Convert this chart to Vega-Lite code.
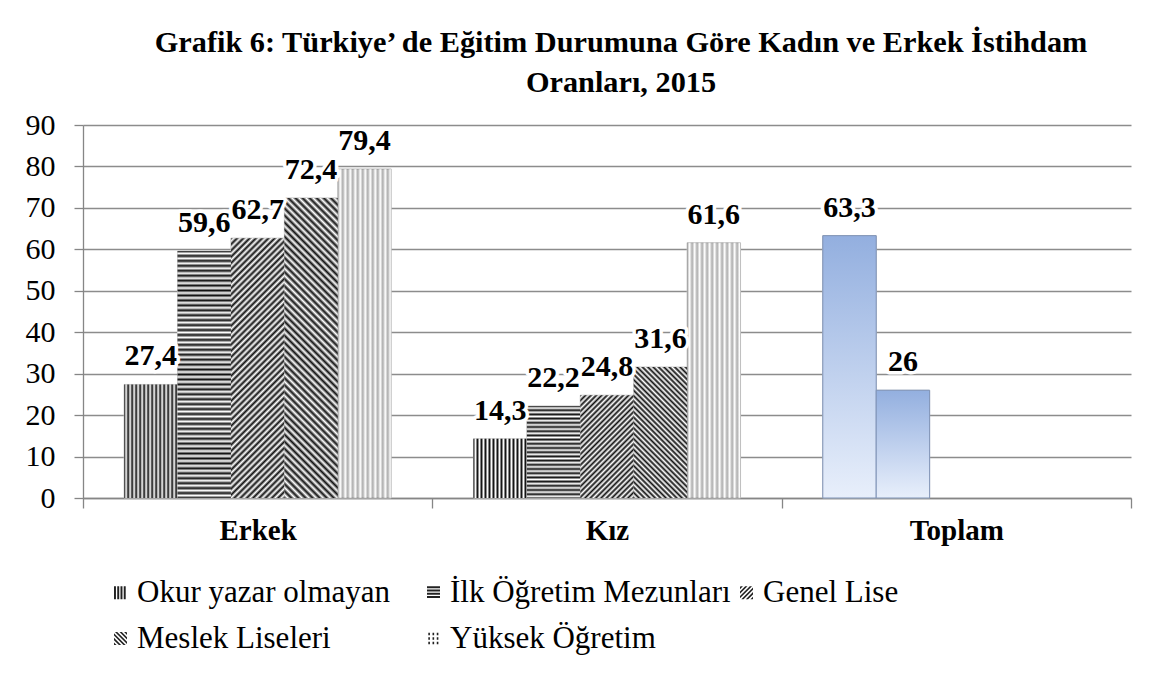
{
  "$schema": "https://vega.github.io/schema/vega-lite/v6.json",
  "width": 1048,
  "height": 373,
  "padding": {"left": 25, "top": 27, "right": 5, "bottom": 5},
  "background": "white",
  "params": [
    {"name": "SD", "value": [
      {"offset":0,"color":"#111"},{"offset":0.01,"color":"#fff"},{"offset":0.02,"color":"#111"},{"offset":0.03,"color":"#fff"},{"offset":0.04,"color":"#111"},{"offset":0.05,"color":"#fff"},{"offset":0.06,"color":"#111"},{"offset":0.07,"color":"#fff"},{"offset":0.08,"color":"#111"},{"offset":0.09,"color":"#fff"},
      {"offset":0.10,"color":"#111"},{"offset":0.11,"color":"#fff"},{"offset":0.12,"color":"#111"},{"offset":0.13,"color":"#fff"},{"offset":0.14,"color":"#111"},{"offset":0.15,"color":"#fff"},{"offset":0.16,"color":"#111"},{"offset":0.17,"color":"#fff"},{"offset":0.18,"color":"#111"},{"offset":0.19,"color":"#fff"},
      {"offset":0.20,"color":"#111"},{"offset":0.21,"color":"#fff"},{"offset":0.22,"color":"#111"},{"offset":0.23,"color":"#fff"},{"offset":0.24,"color":"#111"},{"offset":0.25,"color":"#fff"},{"offset":0.26,"color":"#111"},{"offset":0.27,"color":"#fff"},{"offset":0.28,"color":"#111"},{"offset":0.29,"color":"#fff"},
      {"offset":0.30,"color":"#111"},{"offset":0.31,"color":"#fff"},{"offset":0.32,"color":"#111"},{"offset":0.33,"color":"#fff"},{"offset":0.34,"color":"#111"},{"offset":0.35,"color":"#fff"},{"offset":0.36,"color":"#111"},{"offset":0.37,"color":"#fff"},{"offset":0.38,"color":"#111"},{"offset":0.39,"color":"#fff"},
      {"offset":0.40,"color":"#111"},{"offset":0.41,"color":"#fff"},{"offset":0.42,"color":"#111"},{"offset":0.43,"color":"#fff"},{"offset":0.44,"color":"#111"},{"offset":0.45,"color":"#fff"},{"offset":0.46,"color":"#111"},{"offset":0.47,"color":"#fff"},{"offset":0.48,"color":"#111"},{"offset":0.49,"color":"#fff"},
      {"offset":0.50,"color":"#111"},{"offset":0.51,"color":"#fff"},{"offset":0.52,"color":"#111"},{"offset":0.53,"color":"#fff"},{"offset":0.54,"color":"#111"},{"offset":0.55,"color":"#fff"},{"offset":0.56,"color":"#111"},{"offset":0.57,"color":"#fff"},{"offset":0.58,"color":"#111"},{"offset":0.59,"color":"#fff"},
      {"offset":0.60,"color":"#111"},{"offset":0.61,"color":"#fff"},{"offset":0.62,"color":"#111"},{"offset":0.63,"color":"#fff"},{"offset":0.64,"color":"#111"},{"offset":0.65,"color":"#fff"},{"offset":0.66,"color":"#111"},{"offset":0.67,"color":"#fff"},{"offset":0.68,"color":"#111"},{"offset":0.69,"color":"#fff"},
      {"offset":0.70,"color":"#111"},{"offset":0.71,"color":"#fff"},{"offset":0.72,"color":"#111"},{"offset":0.73,"color":"#fff"},{"offset":0.74,"color":"#111"},{"offset":0.75,"color":"#fff"},{"offset":0.76,"color":"#111"},{"offset":0.77,"color":"#fff"},{"offset":0.78,"color":"#111"},{"offset":0.79,"color":"#fff"},
      {"offset":0.80,"color":"#111"},{"offset":0.81,"color":"#fff"},{"offset":0.82,"color":"#111"},{"offset":0.83,"color":"#fff"},{"offset":0.84,"color":"#111"},{"offset":0.85,"color":"#fff"},{"offset":0.86,"color":"#111"},{"offset":0.87,"color":"#fff"},{"offset":0.88,"color":"#111"},{"offset":0.89,"color":"#fff"},
      {"offset":0.90,"color":"#111"},{"offset":0.91,"color":"#fff"},{"offset":0.92,"color":"#111"},{"offset":0.93,"color":"#fff"},{"offset":0.94,"color":"#111"},{"offset":0.95,"color":"#fff"},{"offset":0.96,"color":"#111"},{"offset":0.97,"color":"#fff"},{"offset":0.98,"color":"#111"},{"offset":0.99,"color":"#fff"},
      {"offset":1,"color":"#111"}
    ]}
  ],
  "title": {
    "text": ["Grafik 6: Türkiye’ de Eğitim Durumuna Göre Kadın ve Erkek İstihdam", "Oranları, 2015"],
    "font": "Liberation Serif",
    "fontSize": 30.3,
    "fontWeight": "bold",
    "lineHeight": 40,
    "color": "#000",
    "anchor": "middle",
    "dx": 14,
    "offset": 12
  },
  "data": {
    "values": [
      {"group": "Erkek", "series": "Okur yazar olmayan", "value": 27.4},
      {"group": "Erkek", "series": "İlk Öğretim Mezunları", "value": 59.6},
      {"group": "Erkek", "series": "Genel Lise", "value": 62.7},
      {"group": "Erkek", "series": "Meslek Liseleri", "value": 72.4},
      {"group": "Erkek", "series": "Yüksek Öğretim", "value": 79.4},
      {"group": "Kız", "series": "Okur yazar olmayan", "value": 14.3},
      {"group": "Kız", "series": "İlk Öğretim Mezunları", "value": 22.2},
      {"group": "Kız", "series": "Genel Lise", "value": 24.8},
      {"group": "Kız", "series": "Meslek Liseleri", "value": 31.6},
      {"group": "Kız", "series": "Yüksek Öğretim", "value": 61.6},
      {"group": "Toplam", "series": "Okur yazar olmayan", "value": 63.3},
      {"group": "Toplam", "series": "İlk Öğretim Mezunları", "value": 26}
    ]
  },
  "encoding": {
    "x": {
      "field": "group", "type": "nominal", "sort": ["Erkek", "Kız", "Toplam"],
      "scale": {"paddingInner": 0, "paddingOuter": 0},
      "axis": {
        "title": null, "labelAngle": 0, "tickBand": "extent",
        "domainColor": "#868686", "domainWidth": 1.3, "tickColor": "#868686", "tickWidth": 1.3, "tickSize": 10,
        "labelFont": "Liberation Serif", "labelFontSize": 29, "labelFontWeight": "bold", "labelColor": "#000", "labelPadding": 8
      }
    },
    "xOffset": {
      "field": "series", "type": "nominal",
      "sort": ["Okur yazar olmayan", "İlk Öğretim Mezunları", "Genel Lise", "Meslek Liseleri", "Yüksek Öğretim"],
      "scale": {"paddingInner": 0, "paddingOuter": 0.77}
    },
    "y": {
      "field": "value", "type": "quantitative",
      "scale": {"domain": [0, 90], "nice": false},
      "axis": {
        "title": null, "values": [0, 10, 20, 30, 40, 50, 60, 70, 80, 90],
        "domainColor": "#868686", "domainWidth": 1.3, "tickColor": "#868686", "tickWidth": 1.3, "tickSize": 9,
        "grid": true, "gridColor": "#8c8c8c", "gridWidth": 1.3,
        "labelFont": "Liberation Serif", "labelFontSize": 30, "labelColor": "#000", "labelPadding": 19
      }
    }
  },
  "layer": [
    {
      "mark": {"type": "point", "filled": true, "opacity": 1, "size": 4, "color": "#222222"},
      "encoding": {
        "y": {"datum": 2},
        "shape": {
          "field": "series", "type": "nominal",
          "sort": ["Okur yazar olmayan", "İlk Öğretim Mezunları", "Genel Lise", "Meslek Liseleri", "Yüksek Öğretim"],
          "scale": {"range": [
            "M-1,-1H-0.7V1H-1Z M-0.5,-1H-0.2V1H-0.5Z M0,-1H0.3V1H0Z M0.5,-1H0.8V1H0.5Z",
            "M-1,-1H1V-0.7H-1Z M-1,-0.5H1V-0.2H-1Z M-1,0H1V0.3H-1Z M-1,0.5H1V0.8H-1Z",
            "M-1,-0.9L-0.9,-1L-0.55,-1L-1,-0.55Z M-1,-0.2L-0.2,-1L0.15,-1L-1,0.15Z M-1,0.5L0.5,-1L0.85,-1L-1,0.85Z M-0.8,1L1,-0.8L1,-0.45L-0.45,1Z M-0.1,1L1,-0.1L1,0.25L0.25,1Z M0.6,1L1,0.6L1,0.95L0.95,1Z",
            "M1,-0.9L0.9,-1L0.55,-1L1,-0.55Z M1,-0.2L0.2,-1L-0.15,-1L1,0.15Z M1,0.5L-0.5,-1L-0.85,-1L1,0.85Z M0.8,1L-1,-0.8L-1,-0.45L0.45,1Z M0.1,1L-1,-0.1L-1,0.25L-0.25,1Z M-0.6,1L-1,0.6L-1,0.95L-0.95,1Z",
            "M-0.8,-0.9H-0.55V-0.5H-0.8Z M-0.15,-0.9H0.1V-0.5H-0.15Z M0.5,-0.9H0.75V-0.5H0.5Z M-0.8,-0.2H-0.55V0.2H-0.8Z M-0.15,-0.2H0.1V0.2H-0.15Z M0.5,-0.2H0.75V0.2H0.5Z M-0.8,0.5H-0.55V0.9H-0.8Z M-0.15,0.5H0.1V0.9H-0.15Z M0.5,0.5H0.75V0.9H0.5Z"
          ]},
          "legend": {
            "orient": "bottom", "columns": 3, "gridAlign": "all", "title": null,
            "labelFont": "Liberation Serif", "labelFontSize": 31, "labelColor": "#000", "labelLimit": 600,
            "symbolSize": 169, "symbolStrokeWidth": 0, "symbolFillColor": "#222222",
            "labelOffset": 1, "columnPadding": -4, "rowPadding": 14, "offset": 10, "padding": 22
          }
        }
      }
    },
    {
      "mark": {"type": "bar", "fill": "white", "stroke": "#c4c4c4", "strokeWidth": 1}
    },
    {
      "mark": {
        "type": "bar",
        "fill": {"expr": "datum.group == 'Toplam' ? {gradient:'linear',x1:0,y1:0,x2:0,y2:1,stops:[{offset:0,color:'#93afdf'},{offset:1,color:'#e8effb'}]} : datum.series == 'Okur yazar olmayan' ? {gradient:'linear',x1:0,y1:0,x2:3.745,y2:0,stops:SD} : datum.series == 'İlk Öğretim Mezunları' ? {gradient:'linear',x1:0,y1:0,x2:0,y2:max(1,210/(datum.value*4.144)),stops:SD} : datum.series == 'Genel Lise' ? {gradient:'linear',x1:0,y1:0,x2:max(190,(53.4+datum.value*4.144)/1.4142)*75.52/(2851.6+pow(datum.value*4.144,2)),y2:max(190,(53.4+datum.value*4.144)/1.4142)*1.4142*datum.value*4.144/(2851.6+pow(datum.value*4.144,2)),stops:SD} : datum.series == 'Meslek Liseleri' ? {gradient:'linear',x1:0,y1:1,x2:max(190,(53.4+datum.value*4.144)/1.4142)*75.52/(2851.6+pow(datum.value*4.144,2)),y2:1-max(190,(53.4+datum.value*4.144)/1.4142)*1.4142*datum.value*4.144/(2851.6+pow(datum.value*4.144,2)),stops:SD} : {gradient:'linear',x1:0,y1:0,x2:4.68,y2:0,stops:SD}"},
        "fillOpacity": {"expr": "datum.series == 'Yüksek Öğretim' ? 0.35 : 1"},
        "stroke": {"expr": "datum.group == 'Toplam' ? '#7f93b6' : 'transparent'"},
        "strokeWidth": 1
      }
    },
    {
      "mark": {"type": "text", "font": "Liberation Serif", "fontSize": 30, "fontWeight": "bold", "baseline": "alphabetic", "dy": -19, "fill": "white", "stroke": "white", "strokeWidth": 7, "strokeJoin": "round"},
      "encoding": {"text": {"field": "value", "type": "quantitative", "format": ".3~g"}}
    },
    {
      "mark": {"type": "text", "font": "Liberation Serif", "fontSize": 30, "fontWeight": "bold", "baseline": "alphabetic", "dy": -19, "fill": "#000"},
      "encoding": {"text": {"field": "value", "type": "quantitative", "format": ".3~g"}}
    }
  ],
  "config": {
    "view": {"stroke": null},
    "locale": {"number": {"decimal": ",", "thousands": ".", "grouping": [3], "currency": ["", " TL"]}}
  }
}
